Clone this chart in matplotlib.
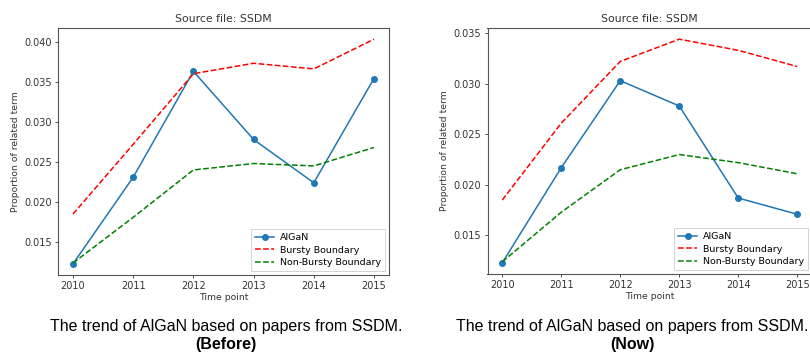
import matplotlib.pyplot as plt

years = [2010, 2011, 2012, 2013, 2014, 2015]

# Before
algan_before = [0.0123, 0.0231, 0.0363, 0.0278, 0.0224, 0.0354]
bursty_before = [0.0185, 0.0272, 0.0360, 0.0373, 0.0366, 0.0403]
nonbursty_before = [0.0124, 0.0181, 0.0240, 0.0248, 0.0245, 0.0268]

# Now
algan_now = [0.0123, 0.0217, 0.0303, 0.0278, 0.0187, 0.0171]
bursty_now = [0.0185, 0.0261, 0.0322, 0.0344, 0.0333, 0.0317]
nonbursty_now = [0.0124, 0.0173, 0.0215, 0.0230, 0.0222, 0.0211]

captions = ["The trend of AlGaN based on papers from SSDM.", "The trend of AlGaN based on papers from SSDM."]
tags = ["(Before)", "(Now)"]

W, H = 810, 354
fig = plt.figure(figsize=(W / 100, H / 100), dpi=100)


def px_axes(left, top, right, bottom):
    return fig.add_axes([left / W, 1 - bottom / H, (right - left) / W, (bottom - top) / H])


def draw(ax, algan, bursty, nonbursty):
    ax.plot(years, algan, marker="o", color="#1f77b4", lw=1.1, markersize=4, label="AlGaN")
    ax.plot(years, bursty, "r--", lw=1.1, label="Bursty Boundary")
    ax.plot(years, nonbursty, "g--", lw=1.1, label="Non-Bursty Boundary")
    ax.set_title("Source file: SSDM", fontsize=7.8, color="#333333", pad=4)
    ax.set_xlabel("Time point", fontsize=6.7, color="#333333", labelpad=1)
    ax.set_ylabel("Proportion of related term", fontsize=6.7, color="#333333", labelpad=3)
    ax.tick_params(labelsize=7, length=2.5, width=0.6, pad=2, colors="#333333")
    for s in ax.spines.values():
        s.set_linewidth(0.8)
        s.set_color("#555555")
    leg = ax.legend(loc="lower right", fontsize=6.8, handlelength=2.0, borderpad=0.45,
                    labelspacing=0.35, handletextpad=0.6, framealpha=1, fancybox=False,
                    borderaxespad=0.4)
    leg.get_frame().set_linewidth(0.6)


ax1 = px_axes(58, 28, 389, 275)
draw(ax1, algan_before, bursty_before, nonbursty_before)
ax2 = px_axes(487.5, 28, 812, 274)
draw(ax2, algan_now, bursty_now, nonbursty_now)

for cx, cap, tag in zip([226, 632], captions, tags):
    fig.text(cx / W, 1 - 327 / H, cap, ha="center", va="center",
             fontsize=11.5, family="Liberation Sans")
    fig.text(cx / W, 1 - 345 / H, tag, ha="center", va="center",
             fontsize=11.5, family="Liberation Sans", weight="bold")

fig.savefig("out.png", dpi=100)
